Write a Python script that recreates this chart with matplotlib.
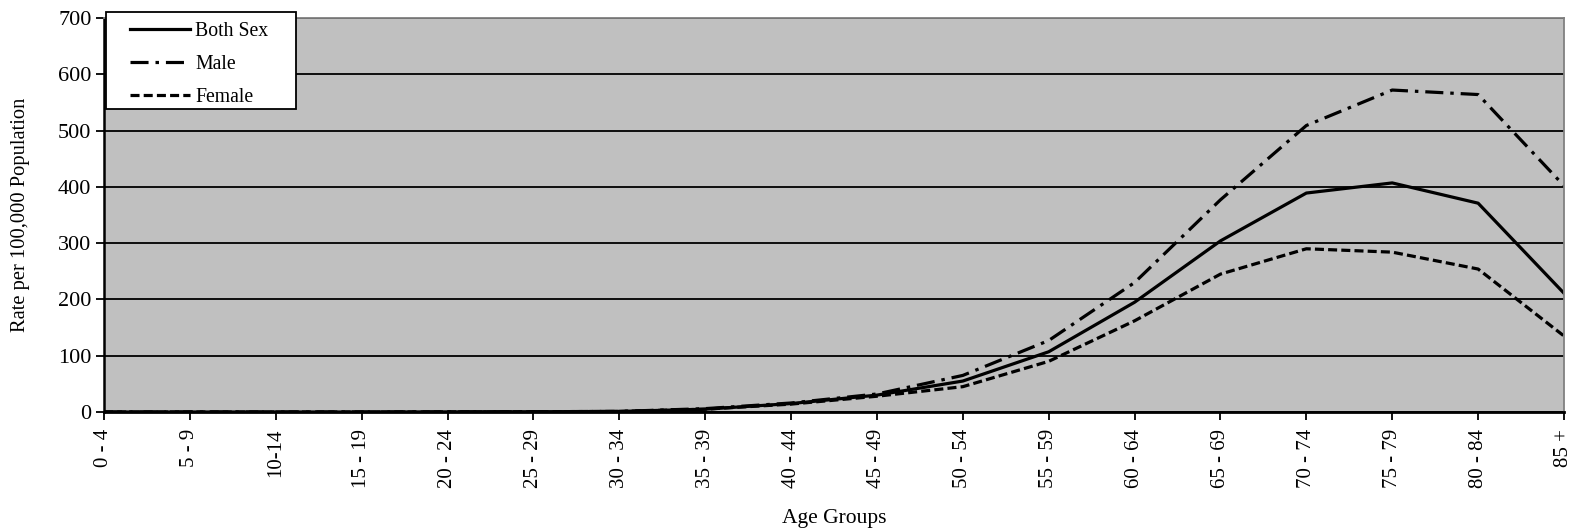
import matplotlib
matplotlib.use("Agg")
import matplotlib.pyplot as plt
from matplotlib.patches import Rectangle

age_groups = ["0 - 4", "5 - 9", "10-14", "15 - 19", "20 - 24", "25 - 29", "30 - 34",
              "35 - 39", "40 - 44", "45 - 49", "50 - 54", "55 - 59", "60 - 64",
              "65 - 69", "70 - 74", "75 - 79", "80 - 84", "85 +"]
both_sex = [0, 0, 0, 0, 0.2, 0.5, 1, 5, 15, 30, 55, 107, 195, 304, 389, 407, 371, 211]
male = [0, 0, 0, 0, 0.2, 0.5, 1, 6, 16, 32, 65, 127, 230, 377, 509, 572, 564, 402]
female = [0, 0, 0, 0, 0.2, 0.5, 1, 5, 14, 28, 45, 90, 162, 245, 290, 284, 254, 135]

plt.rcParams['font.family'] = ['Liberation Serif', 'DejaVu Serif']
plt.rcParams['lines.scale_dashes'] = False

W, H = 1581, 531
fig = plt.figure(figsize=(W/100, H/100), dpi=100)
ax = fig.add_axes([104/W, 1-412/H, (1564-104)/W, (412-18)/H])
ax.set_facecolor('#C0C0C0')

x = list(range(len(age_groups)))
ax.set_axisbelow(True)
ax.yaxis.grid(True, color='black', linewidth=1.3)
l1, = ax.plot(x, both_sex, color='black', lw=2.3, label='Both Sex')
l2, = ax.plot(x, male, color='black', lw=2.3, dashes=(13, 5, 2.5, 5), label='Male')
l3, = ax.plot(x, female, color='black', lw=2.3, dashes=(6.5, 3), label='Female')

ax.set_xlim(0, len(age_groups) - 1)
ax.set_ylim(0, 700)
ax.set_yticks(range(0, 701, 100))
ax.set_xticks(x)
ax.set_xticklabels(age_groups, rotation=90, fontsize=15)
ax.tick_params(axis='y', labelsize=16, direction='out', length=6, width=1.3, pad=3)
ax.tick_params(axis='x', direction='out', length=6, width=1.3, pad=6)

for s in ['top', 'right']:
    ax.spines[s].set_color('#808080')
    ax.spines[s].set_linewidth(1.3)
ax.spines['left'].set_linewidth(1.8)
ax.spines['bottom'].set_linewidth(2.0)

ax.set_ylabel('Rate per 100,000 Population', fontsize=14.8, labelpad=20)
ax.set_xlabel('Age Groups', fontsize=15.5, labelpad=15)

# legend frame (drawn separately for Excel-like padding)
frame = Rectangle((106/W, 1-109/H), (296-106)/W, (109-12)/H, transform=fig.transFigure,
                  facecolor='white', edgecolor='black', linewidth=1.3, zorder=5)
fig.patches.append(frame)

fs = 14.2
fspx = fs * 100 / 72
leg = fig.legend(handles=[l1, l2, l3], loc='upper left',
                 bbox_to_anchor=(130/W, 1-22/H), fontsize=fs,
                 frameon=False, handlelength=60/fspx, handletextpad=5/fspx,
                 labelspacing=0.72, borderpad=0, borderaxespad=0)
leg.set_zorder(6)

fig.savefig('out.png', dpi=100)
